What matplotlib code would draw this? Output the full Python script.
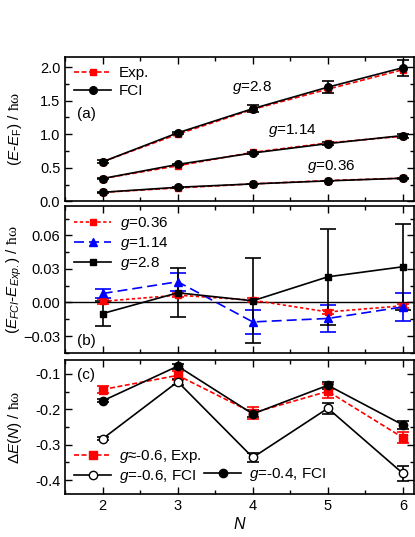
import matplotlib
matplotlib.use("Agg")
import matplotlib.pyplot as plt
from matplotlib.lines import Line2D
from matplotlib.ticker import MultipleLocator

plt.rcParams['font.family'] = ['Liberation Sans', 'DejaVu Sans']
plt.rcParams['mathtext.fontset'] = 'custom'
plt.rcParams['mathtext.it'] = 'Liberation Sans:italic'
plt.rcParams['mathtext.rm'] = 'Liberation Sans'
plt.rcParams['mathtext.bf'] = 'Liberation Serif'
plt.rcParams['font.size'] = 10

N = [2, 3, 4, 5, 6]

# Panel (a)
a_fci_28 = [0.59, 1.02, 1.38, 1.70, 1.99]
a_fci_28_err = [0.02, 0.02, 0.05, 0.09, 0.12]
a_exp_28 = [0.59, 1.00, 1.37, 1.67, 1.96]
a_fci_114 = [0.34, 0.55, 0.72, 0.86, 0.98]
a_fci_114_err = [0.01, 0.01, 0.02, 0.02, 0.03]
a_exp_114 = [0.34, 0.53, 0.73, 0.87, 0.97]
a_fci_036 = [0.135, 0.21, 0.26, 0.305, 0.345]
a_fci_036_err = [0.005, 0.005, 0.005, 0.005, 0.005]
a_exp_036 = [0.135, 0.20, 0.26, 0.31, 0.345]

# Panel (b)
b_036 = [0.001, 0.0065, 0.002, -0.0085, -0.003]
b_036_err = [0.002, 0.002, 0.002, 0.002, 0.002]
b_114 = [0.008, 0.0185, -0.0174, -0.0143, -0.004]
b_114_err = [0.004, 0.008, 0.011, 0.012, 0.0125]
b_28 = [-0.0099, 0.0086, 0.0015, 0.0229, 0.0319]
b_28_err = [0.011, 0.022, 0.038, 0.043, 0.0385]

# Panel (c)
c_exp = [-0.144, -0.104, -0.21, -0.149, -0.28]
c_exp_err = [0.011, 0.012, 0.018, 0.02, 0.016]
c_fci06 = [-0.283, -0.122, -0.336, -0.197, -0.381]
c_fci06_err = [0.004, 0.008, 0.012, 0.015, 0.022]
c_fci04 = [-0.176, -0.078, -0.213, -0.132, -0.244]
c_fci04_err = [0.004, 0.007, 0.01, 0.01, 0.012]

HW = r'$\mathbf{ħω}$'

fig = plt.figure(figsize=(4.15, 5.37), dpi=100)
L, R = 0.157, 0.998
axa = fig.add_axes([L, 0.625, R - L, 0.894 - 0.625])
axb = fig.add_axes([L, 0.343, R - L, 0.616 - 0.343])
axc = fig.add_axes([L, 0.0795, R - L, 0.33 - 0.0795])

for ax in (axa, axb, axc):
    ax.set_xlim(1.5, 6.15)
    ax.xaxis.set_major_locator(MultipleLocator(1))
    ax.xaxis.set_minor_locator(MultipleLocator(0.5))
    ax.tick_params(which='both', direction='in', top=True, right=True, width=1,
                   labelsize=10.5)
    ax.tick_params(which='major', length=5)
    ax.tick_params(which='minor', length=3)
    for s in ax.spines.values():
        s.set_linewidth(1.2)
axa.tick_params(labelbottom=False)
axb.tick_params(labelbottom=False)

blk_kw = dict(color='black', ls='-', lw=1.2, marker='o', ms=5.5, capsize=4.5, elinewidth=1.2, capthick=1.2)

# Panel a
for exp, fci, err in [(a_exp_28, a_fci_28, a_fci_28_err),
                      (a_exp_114, a_fci_114, a_fci_114_err),
                      (a_exp_036, a_fci_036, a_fci_036_err)]:
    axa.plot(N, exp, color='red', ls=(0, (3, 1.5)), lw=1.2, marker='s', ms=5)
    axa.errorbar(N, fci, yerr=err, **blk_kw)
axa.set_ylim(0, 2.15)
axa.yaxis.set_major_locator(MultipleLocator(0.5))
axa.yaxis.set_minor_locator(MultipleLocator(0.25))
axa.set_ylabel(r'($\mathit{E}$-$\mathit{E}_{\mathrm{F}}$) / ' + HW, fontsize=11)
axa.text(0.035, 0.58, '(a)', transform=axa.transAxes, fontsize=11)
axa.text(3.72, 1.64, r'$\mathit{g}$=2.8', fontsize=11)
axa.text(4.2, 1.0, r'$\mathit{g}$=1.14', fontsize=11)
axa.text(4.72, 0.46, r'$\mathit{g}$=0.36', fontsize=11)
ha = [Line2D([], [], color='red', ls=(0, (3, 1.5)), lw=1.2, marker='s', ms=5),
      Line2D([], [], color='black', ls='-', lw=1.2, marker='o', ms=5.5)]
axa.legend(ha, ['Exp.', 'FCI'], loc='upper left', frameon=False, fontsize=11,
           handlelength=2.4, borderaxespad=0.2, labelspacing=0.25, handletextpad=0.5)

# Panel b
axb.axhline(0, color='black', lw=1)
axb.errorbar(N, b_036, yerr=b_036_err, color='red', ls=(0, (2, 1.5)), lw=1.2, marker='s', ms=5,
             capsize=4.5, elinewidth=1.2, capthick=1.2)
axb.errorbar(N, b_114, yerr=b_114_err, color='blue', ls=(0, (6, 3)), lw=1.2, marker='^', ms=6,
             capsize=6, elinewidth=1.2, capthick=1.2)
axb.errorbar(N, b_28, yerr=b_28_err, color='black', ls='-', lw=1.2, marker='s', ms=5,
             capsize=6, elinewidth=1.2, capthick=1.2)
axb.set_ylim(-0.045, 0.086)
axb.yaxis.set_major_locator(MultipleLocator(0.03))
axb.yaxis.set_minor_locator(MultipleLocator(0.015))
axb.set_ylabel(r'($\mathit{E}_{\mathit{FCI}}$-$\mathit{E}_{\mathit{Exp.}}$) / ' + HW, fontsize=11)
axb.text(0.035, 0.055, '(b)', transform=axb.transAxes, fontsize=11)
hb = [Line2D([], [], color='red', ls=(0, (2, 1.5)), lw=1.2, marker='s', ms=5),
      Line2D([], [], color='blue', ls=(0, (6, 3)), lw=1.2, marker='^', ms=6),
      Line2D([], [], color='black', ls='-', lw=1.2, marker='s', ms=5)]
axb.legend(hb, [r'$\mathit{g}$=0.36', r'$\mathit{g}$=1.14', r'$\mathit{g}$=2.8'], loc='upper left',
           frameon=False, fontsize=11, handlelength=2.4, borderaxespad=0.2, labelspacing=0.2,
           handletextpad=0.6)

# Panel c
axc.errorbar(N, c_exp, yerr=c_exp_err, color='red', ls=(0, (3, 1.5)), lw=1.2, marker='s', ms=6,
             capsize=4.5, elinewidth=1.2, capthick=1.2)
axc.errorbar(N, c_fci06, yerr=c_fci06_err, color='black', ls='-', lw=1.2, marker='o', ms=6,
             mfc='white', capsize=4.5, elinewidth=1.2, capthick=1.2)
axc.errorbar(N, c_fci04, yerr=c_fci04_err, color='black', ls='-', lw=1.2, marker='o', ms=6,
             capsize=4.5, elinewidth=1.2, capthick=1.2)
axc.set_ylim(-0.44, -0.06)
axc.yaxis.set_major_locator(MultipleLocator(0.1))
axc.yaxis.set_minor_locator(MultipleLocator(0.05))
axc.yaxis.set_major_formatter(matplotlib.ticker.FuncFormatter(lambda v, p: f'{v:.1f}'))
axc.set_ylabel(r'$\mathit{\Delta E}$($\mathit{N}$) / ' + HW, fontsize=11)
axc.set_xlabel(r'$\mathit{N}$', fontsize=11.5, labelpad=2)
axc.text(0.035, 0.86, '(c)', transform=axc.transAxes, fontsize=11)
hc = [Line2D([], [], color='red', ls=(0, (3, 1.5)), lw=1.2, marker='s', ms=6),
      Line2D([], [], color='black', ls='-', lw=1.2, marker='o', ms=6, mfc='white'),
      Line2D([], [], color='none'),
      Line2D([], [], color='black', ls='-', lw=1.2, marker='o', ms=6)]
axc.legend(hc, [r'$\mathit{g}$≈-0.6, Exp.', r'$\mathit{g}$=-0.6, FCI', '', r'$\mathit{g}$=-0.4, FCI'],
           ncol=2, loc='lower left', frameon=False, fontsize=11, handlelength=2.4,
           borderaxespad=0.2, labelspacing=0.2, handletextpad=0.5, columnspacing=0.2)

for ax in (axa, axb, axc):
    ax.yaxis.set_label_coords(-0.118, 0.5)

fig.savefig('out.png', dpi=100)
